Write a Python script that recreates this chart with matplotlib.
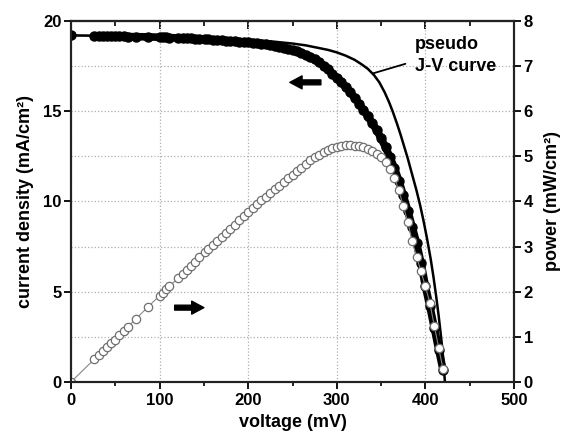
import numpy as np
import matplotlib
matplotlib.use('Agg')
import matplotlib.pyplot as plt
from matplotlib.ticker import MultipleLocator

plt.rcParams['font.family'] = ['Liberation Sans', 'DejaVu Sans']
plt.rcParams['font.weight'] = 'bold'
plt.rcParams['axes.labelweight'] = 'bold'

# measured points (mV), current density (mA/cm2), power (mW/cm2)
v_meas = [0, 26.5, 31.4, 35.9, 40.8, 45.4, 49.1, 54.7, 59.3, 64.1, 72.8, 86.7,
          99.9, 103.6, 107.4, 111.0, 120.6, 126.0, 130.7, 135.6, 140.5, 145.0, 150.7,
          155, 160, 165, 170, 175, 180, 185, 190, 195, 200,
          205, 210, 215, 220, 225, 230, 235, 240, 245, 250,
          255, 260, 265, 270, 275, 280, 285, 290, 295, 300,
          305, 310, 315, 320, 325, 330, 335, 340, 345, 350,
          355, 360, 365, 370, 375, 380, 385, 390, 395, 400,
          405, 410, 415, 420]
j_meas = [19.2, 19.18, 19.18, 19.17, 19.17, 19.16, 19.16, 19.15, 19.15, 19.14, 19.13, 19.12,
          19.1, 19.09, 19.09, 19.08, 19.06, 19.05, 19.04, 19.03, 19.02, 19.01, 19.0,
          18.98, 18.96, 18.95, 18.93, 18.91, 18.9, 18.88, 18.86, 18.84, 18.82,
          18.79, 18.76, 18.73, 18.7, 18.66, 18.62, 18.57, 18.52, 18.46, 18.4,
          18.32, 18.23, 18.13, 18.02, 17.88, 17.72, 17.53, 17.32, 17.09, 16.85,
          16.6, 16.33, 16.05, 15.75, 15.42, 15.08, 14.72, 14.33, 13.95, 13.5,
          13.0, 12.45, 11.85, 11.15, 10.35, 9.5, 8.6, 7.7, 6.6, 5.3,
          4.2, 3.0, 1.8, 0.65]
p_meas = [0.0, 0.51, 0.6, 0.69, 0.78, 0.87, 0.94, 1.05, 1.13, 1.23, 1.39, 1.66,
          1.91, 1.98, 2.05, 2.12, 2.3, 2.4, 2.49, 2.58, 2.67, 2.76, 2.87,
          2.95, 3.04, 3.13, 3.22, 3.31, 3.40, 3.49, 3.58, 3.67, 3.76,
          3.85, 3.94, 4.03, 4.11, 4.19, 4.27, 4.35, 4.43, 4.51, 4.59,
          4.67, 4.75, 4.83, 4.91, 4.98, 5.04, 5.09, 5.14, 5.18, 5.21,
          5.23, 5.25, 5.25, 5.24, 5.22, 5.20, 5.16, 5.12, 5.06, 4.99,
          4.88, 4.73, 4.52, 4.25, 3.90, 3.55, 3.12, 2.78, 2.45, 2.12,
          1.75, 1.25, 0.75, 0.28]

# pseudo J-V curve
v_pseudo = [0, 50, 100, 150, 200, 230, 250, 265, 280, 290, 300, 310, 320, 328, 335,
            342, 348, 354, 359, 363, 368, 372, 376, 380, 385, 390, 394, 398, 402,
            406, 409, 412, 415, 418, 420, 422]
j_pseudo = [19.2, 19.18, 19.15, 19.08, 18.97, 18.85, 18.75, 18.65, 18.5, 18.4, 18.26,
            18.08, 17.85, 17.6, 17.35, 17.0, 16.6, 16.05, 15.5, 15.0, 14.3, 13.7,
            13.05, 12.4, 11.5, 10.6, 9.8, 8.9, 7.9, 6.8, 5.85, 4.8, 3.65, 2.35,
            1.35, 0.0]

fig = plt.figure(figsize=(5.74, 4.4), dpi=100)
ax = fig.add_axes([0.1237, 0.1318, 0.7718, 0.8205])
ax2 = ax.twinx()

ax.plot(v_pseudo, j_pseudo, color='black', lw=1.8, zorder=3)
# dense measured points merge into a thick band
ax.plot(v_meas[1:], j_meas[1:], '-', color='black', lw=5.5,
        solid_capstyle='round', zorder=4)
ax.plot(v_meas, j_meas, '-', color='black', lw=1.0, marker='o', ms=6.5,
        mfc='black', mec='black', zorder=4)
ax2.plot(v_meas, p_meas, '-', color='#888888', lw=0.8, marker='o', ms=6,
         mfc='white', mec='#707070', mew=0.9)

ax.set_xlim(0, 500)
ax.set_ylim(0, 20)
ax2.set_ylim(0, 8)

ax.xaxis.set_major_locator(MultipleLocator(100))
ax.xaxis.set_minor_locator(MultipleLocator(50))
ax.yaxis.set_major_locator(MultipleLocator(5))
ax.set_yticks(np.arange(2.5, 20, 5), minor=True)
ax2.yaxis.set_major_locator(MultipleLocator(1))

ax.set_axisbelow(True)
ax.xaxis.grid(True, which='major', ls=':', color='#b0b0b0', lw=0.9)
ax.yaxis.grid(True, which='both', ls=':', color='#b0b0b0', lw=0.9)

ax.tick_params(axis='x', which='major', direction='out', length=5, width=1.3,
               labelsize=12, pad=3)
ax.tick_params(axis='x', which='minor', direction='out', length=3, width=1.2)
ax.tick_params(axis='y', which='major', direction='out', length=5, width=1.3,
               labelsize=12, pad=2)
ax.tick_params(axis='y', which='minor', length=0)
ax2.tick_params(axis='y', direction='out', length=5, width=1.3, labelsize=12, pad=2)

top = ax.secondary_xaxis('top')
top.xaxis.set_major_locator(MultipleLocator(100))
top.xaxis.set_minor_locator(MultipleLocator(50))
top.tick_params(which='major', direction='in', length=6, width=1.3, labeltop=False)
top.tick_params(which='minor', direction='in', length=3.5, width=1.2)

for a in (ax, ax2):
    for s in a.spines.values():
        s.set_linewidth(1.5)
        s.set_color('#222222')
top.spines['top'].set_linewidth(1.5)

ax.set_xlabel('voltage (mV)', fontsize=13, labelpad=4)
ax.set_ylabel('current density (mA/cm²)', fontsize=13, labelpad=6)
ax2.set_ylabel('power (mW/cm²)', fontsize=13, labelpad=8)

ax.annotate('pseudo\nJ-V curve', xy=(341, 17.1), xytext=(388, 18.08),
            ha='left', va='center', fontsize=13, linespacing=1.35,
            arrowprops=dict(arrowstyle='-', lw=1.3, color='black',
                            relpos=(0, 0.36), shrinkA=5, shrinkB=0))

arrow_style = 'simple,head_length=0.8,head_width=0.85,tail_width=0.32'
ax.annotate('', xy=(247, 16.6), xytext=(282, 16.6),
            arrowprops=dict(arrowstyle=arrow_style, color='black',
                            mutation_scale=11, shrinkA=0, shrinkB=0))
ax.annotate('', xy=(150, 4.12), xytext=(117, 4.12),
            arrowprops=dict(arrowstyle=arrow_style, color='black',
                            mutation_scale=11, shrinkA=0, shrinkB=0))

fig.savefig('out.png', dpi=100)
